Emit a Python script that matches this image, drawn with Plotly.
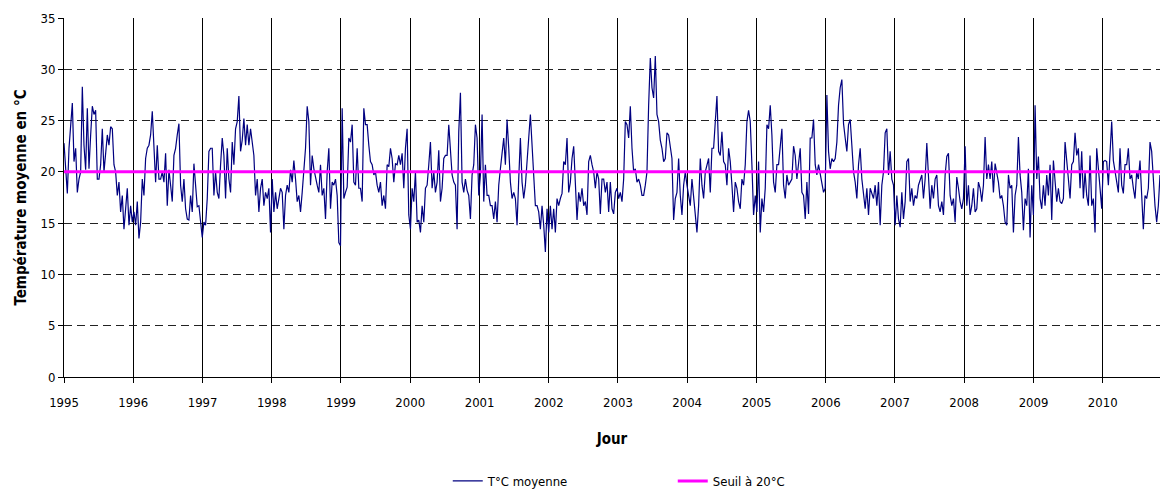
import pandas as pd
import plotly.graph_objects as go

# Daily mean temperature (°C), sampled roughly every 9 days from Jan 1995 to Oct 2010
temp_1995_1996 = [22.8, 19.7, 17.9, 22.3, 24.9, 26.7, 21.0, 22.3, 18.0, 19.3, 20.0, 28.3, 22.6, 20.2, 26.2,
                  20.3, 23.6, 26.4, 25.6, 26.0, 19.3, 19.3, 20.7, 24.2, 20.0, 22.0, 23.6, 22.6, 24.4, 24.2,
                  20.7, 20.0, 17.7, 19.0, 16.1, 17.7, 14.4, 16.4, 18.4, 14.8, 16.7, 15.1, 16.1, 14.8, 17.1,
                  13.5, 15.1, 19.3, 17.7, 21.3, 22.3, 22.6, 23.6, 25.9, 22.6, 19.0, 22.6, 19.3]
temp_1996_1997 = [19.3, 20.0, 19.0, 21.8, 16.7, 20.2, 18.7, 17.1, 21.6, 22.3, 23.6, 24.7, 18.7, 17.1, 19.3,
                  16.4, 15.4, 15.3, 17.7, 16.1, 20.8, 18.7, 16.6, 16.7, 15.1, 13.6, 15.1, 14.8, 17.4, 22.0,
                  22.3, 22.3, 17.7, 20.0, 18.0, 17.4, 20.7, 23.3, 21.6, 17.4, 22.3, 19.3, 18.0, 22.9, 20.7,
                  24.2, 24.9, 27.4, 22.0, 23.1, 25.2, 22.6, 24.6, 22.6, 24.2, 22.9, 21.6, 17.7, 19.3, 16.1]
temp_1997_1999 = [18.4, 19.3, 16.7, 18.0, 17.4, 18.4, 14.1, 19.3, 16.1, 18.0, 16.4, 17.4, 18.4, 18.0, 14.4,
                  17.7, 18.7, 18.0, 20.2, 19.0, 21.1, 19.3, 17.1, 17.7, 16.1, 18.0, 20.7, 22.3, 26.4, 24.9,
                  18.7, 21.6, 20.3, 19.3, 18.7, 18.0, 20.7, 17.7, 18.4, 15.4, 20.0, 22.3, 16.4, 19.0, 18.7,
                  19.3, 17.7, 13.1, 12.8, 26.2, 17.4, 18.0, 18.5, 23.3, 22.9, 24.6, 19.0, 18.7, 22.3, 18.4]
temp_1999_2000 = [18.4, 17.1, 26.2, 24.6, 24.6, 22.6, 21.0, 20.7, 19.7, 20.0, 18.7, 18.0, 19.0, 16.7, 17.7,
                  16.4, 20.7, 20.5, 22.3, 21.3, 19.0, 20.8, 20.7, 21.6, 20.7, 21.8, 18.4, 22.3, 24.2, 15.8,
                  14.4, 18.4, 17.1, 20.0, 15.1, 15.3, 14.1, 16.7, 15.1, 18.4, 18.7, 20.7, 22.9, 18.4, 20.0,
                  18.0, 19.0, 22.1, 17.1, 18.4, 21.3, 21.6, 21.6, 24.6, 21.6, 19.7, 19.0, 18.7, 14.4, 23.9]
temp_2000_2002 = [27.7, 19.0, 18.0, 19.3, 18.2, 17.7, 15.4, 19.7, 20.7, 24.6, 23.3, 17.7, 19.7, 25.6, 17.1,
                  20.7, 17.7, 17.7, 16.7, 16.7, 15.4, 17.1, 15.1, 18.7, 20.3, 21.6, 23.3, 20.7, 25.1, 22.3,
                  19.0, 17.4, 18.0, 17.4, 14.8, 19.3, 23.3, 19.0, 17.4, 18.7, 21.6, 23.3, 25.6, 22.6, 20.7,
                  16.7, 16.7, 16.1, 14.4, 16.7, 14.8, 12.2, 16.4, 14.1, 16.7, 14.4, 16.4, 14.1, 17.4, 16.7]
temp_2002_2003 = [17.4, 17.9, 21.0, 20.7, 23.3, 18.0, 19.0, 21.3, 22.5, 19.0, 15.3, 18.0, 17.1, 18.4, 16.7,
                  17.1, 15.8, 21.0, 21.6, 20.7, 20.0, 18.4, 20.0, 19.3, 15.9, 19.3, 19.3, 18.0, 19.0, 16.1,
                  19.0, 16.4, 15.9, 18.0, 18.4, 17.4, 18.0, 17.1, 19.3, 24.9, 24.6, 23.3, 26.4, 22.3, 20.0,
                  20.3, 19.0, 19.3, 18.7, 17.7, 17.7, 18.7, 20.0, 26.5, 31.1, 28.2, 27.2, 31.3, 25.6, 24.9]
temp_2003_2005 = [23.1, 22.3, 21.0, 21.3, 23.8, 23.6, 22.6, 21.3, 15.3, 17.4, 18.0, 21.3, 17.7, 15.8, 18.7,
                  20.0, 18.7, 17.7, 16.7, 19.3, 17.7, 15.4, 14.1, 16.7, 21.3, 18.7, 17.4, 20.0, 20.7, 21.3,
                  18.0, 22.3, 22.3, 25.2, 27.4, 22.0, 21.6, 23.9, 21.0, 20.7, 18.7, 22.3, 21.0, 18.7, 16.1,
                  19.0, 18.4, 17.1, 16.4, 19.3, 18.7, 20.7, 24.9, 26.0, 24.9, 20.7, 15.8, 17.7, 16.1, 21.0]
temp_2005_2006 = [14.1, 17.4, 16.1, 18.4, 24.6, 24.2, 26.5, 23.6, 19.0, 18.0, 20.7, 20.7, 22.3, 24.2, 18.7,
                  17.4, 19.7, 18.7, 19.0, 19.3, 22.5, 21.6, 19.3, 20.7, 22.3, 18.0, 17.7, 15.4, 19.0, 15.9,
                  23.3, 23.3, 25.1, 20.7, 19.7, 20.7, 19.7, 18.7, 18.0, 18.4, 27.5, 22.0, 20.3, 21.3, 21.0,
                  21.3, 22.9, 26.5, 28.2, 29.0, 24.7, 23.3, 22.0, 24.6, 25.1, 22.6, 20.0, 19.0, 17.4, 20.7]
temp_2006_2008 = [22.3, 19.3, 17.7, 16.4, 18.4, 15.8, 18.4, 17.9, 17.4, 18.7, 16.7, 19.0, 14.8, 18.7, 20.0,
                  23.8, 24.2, 19.7, 22.0, 19.3, 18.7, 14.8, 17.7, 15.4, 14.6, 18.0, 15.4, 17.1, 21.0, 21.3,
                  17.1, 18.4, 16.7, 17.7, 17.4, 18.7, 19.3, 19.7, 17.4, 19.3, 22.8, 19.0, 16.4, 18.7, 17.4,
                  19.3, 19.7, 16.7, 16.1, 17.1, 15.8, 19.7, 21.5, 21.8, 17.7, 16.7, 17.4, 15.1, 19.5, 18.4]
temp_2008_2009 = [17.1, 16.4, 17.4, 22.5, 16.7, 18.7, 15.8, 16.7, 18.4, 16.1, 16.4, 19.0, 18.4, 17.1, 18.7,
                  23.4, 19.3, 20.7, 19.3, 21.0, 18.0, 20.8, 19.7, 19.0, 17.4, 17.7, 16.7, 15.1, 14.8, 19.7,
                  18.4, 18.7, 14.1, 17.7, 18.7, 23.4, 19.7, 18.0, 14.3, 17.4, 16.7, 20.3, 13.6, 18.7, 15.8,
                  26.5, 19.3, 21.5, 17.4, 16.4, 18.7, 16.7, 19.7, 17.7, 20.7, 15.3, 21.1, 19.3, 17.1, 18.4]
temp_2009_2010 = [17.1, 16.9, 17.4, 22.9, 20.7, 19.3, 17.4, 20.7, 21.0, 23.8, 21.6, 22.3, 18.4, 22.0, 17.4,
                  20.0, 17.7, 16.7, 21.6, 16.7, 17.4, 14.1, 22.3, 20.7, 18.4, 16.4, 21.0, 21.1, 21.0, 18.7,
                  22.6, 24.9, 21.1, 20.0, 18.7, 18.0, 22.3, 18.7, 17.9, 20.7, 20.7, 22.3, 19.3, 19.7, 18.4,
                  17.4, 20.0, 19.3, 21.1, 17.4, 14.4, 17.7, 17.4, 18.4, 22.9, 22.0, 19.0, 16.7, 15.1, 16.7,
                  19.7]

temperature = (temp_1995_1996 + temp_1996_1997 + temp_1997_1999 + temp_1999_2000 + temp_2000_2002
               + temp_2002_2003 + temp_2003_2005 + temp_2005_2006 + temp_2006_2008 + temp_2008_2009
               + temp_2009_2010)

first_day = "1995-01-01"
last_day = "2010-10-30"
threshold = 20
year_ticks = [str(y) for y in range(1995, 2011)]

days = pd.date_range(first_day, last_day, periods=len(temperature))

FONT = "Liberation Sans Narrow, DejaVu Sans Condensed, Arial Narrow, sans-serif"

fig = go.Figure()
fig.add_trace(go.Scatter(
    x=days, y=temperature, mode="lines", name="T°C moyenne",
    line=dict(color="#000080", width=1.2),
))
fig.add_trace(go.Scatter(
    x=[first_day, last_day], y=[threshold, threshold], mode="lines", name="Seuil à 20°C",
    line=dict(color="#FF00FF", width=3),
))

fig.update_layout(
    width=1160, height=489,
    margin=dict(l=64, r=0, t=18, b=112),
    paper_bgcolor="white", plot_bgcolor="white",
    font=dict(family=FONT, size=12, color="black"),
    showlegend=True,
    legend=dict(
        orientation="h", xref="container", yref="container",
        x=0.386, xanchor="left", y=0.0164, yanchor="middle",
        entrywidth=180, entrywidthmode="pixels",
        font=dict(family=FONT, size=13, color="black"),
        bgcolor="rgba(0,0,0,0)",
    ),
)

fig.update_xaxes(
    type="date",
    range=[first_day, last_day],
    tickvals=[f"{y}-01-01" for y in year_ticks],
    ticktext=year_ticks,
    ticks="outside", ticklen=5, tickcolor="black",
    tickfont=dict(family=FONT, size=13),
    ticklabelstandoff=8,
    showline=True, linecolor="black", linewidth=1,
    showgrid=True, gridcolor="#000000", gridwidth=1,
    zeroline=False, automargin=False,
    title=dict(text="<b>Jour</b>", font=dict(family=FONT, size=15), standoff=24),
)
fig.update_yaxes(
    range=[0, 35], dtick=5, tick0=0,
    ticks="outside", ticklen=5, tickcolor="black",
    tickfont=dict(family=FONT, size=13),
    showline=True, linecolor="black", linewidth=1,
    showgrid=True, gridcolor="#222222", gridwidth=1, griddash="8px,5px",
    zeroline=False, automargin=False,
    title=dict(text="<b>Température moyenne en °C</b>", font=dict(family=FONT, size=15), standoff=10),
)

fig.write_html("out.html")
